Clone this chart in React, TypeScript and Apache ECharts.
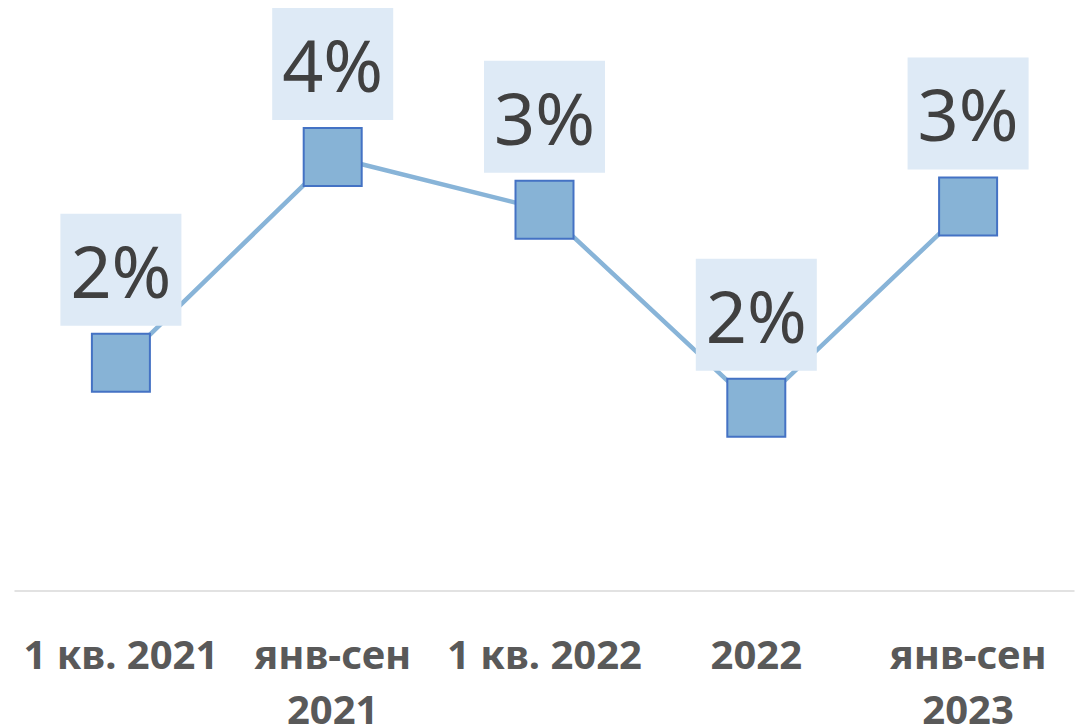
import React, { useEffect, useRef } from "react";
import * as echarts from "echarts";

const categories = ["1 кв. 2021", "янв-сен\n2021", "1 кв. 2022", "2022", "янв-сен\n2023"];
const values = [1.98, 3.77, 3.31, 1.59, 3.34];
const yMin = 0;
const yMax = 5;

export default function App() {
  const ref = useRef<HTMLDivElement>(null);
  useEffect(() => {
    if (!ref.current) return;
    const chart = echarts.init(ref.current, null, { renderer: "svg" });
    chart.setOption({
      animation: false,
      backgroundColor: "#ffffff",
      grid: {
        left: 15,
        right: 2,
        top: 15.5,
        bottom: 137.5,
        containLabel: false,
        outerBoundsMode: "none",
      },
      xAxis: {
        type: "category",
        data: categories,
        boundaryGap: true,
        axisLine: { show: true, lineStyle: { color: "#D9D9D9", width: 1.5 } },
        axisTick: { show: false },
        axisLabel: {
          interval: 0,
          margin: 35.5,
          fontFamily: "Noto Sans",
          fontWeight: "bold",
          fontSize: 40,
          lineHeight: 55,
          color: "#595959",
        },
      },
      yAxis: {
        type: "value",
        min: yMin,
        max: yMax,
        show: false,
        splitLine: { show: false },
      },
      series: [
        {
          type: "line",
          data: values,
          symbol: "rect",
          symbolSize: 58,
          lineStyle: { color: "#88B4D8", width: 4.5 },
          itemStyle: { color: "#87B3D6", borderColor: "#4472C4", borderWidth: 2 },
          label: {
            show: true,
            position: "top",
            distance: 7,
            formatter: (p: any) => Math.round(p.value) + "%",
            fontFamily: "Noto Sans",
            fontSize: 72,
            lineHeight: 90,
            color: "#404040",
            backgroundColor: "#DEEAF6",
            padding: [11, 10, 11, 10],
          },
          z: 2,
        },
      ],
    });
    return () => chart.dispose();
  }, []);
  return (
    <div
      ref={ref}
      style={{ position: "absolute", left: 0, top: 0, width: 1076, height: 728 }}
    />
  );
}
